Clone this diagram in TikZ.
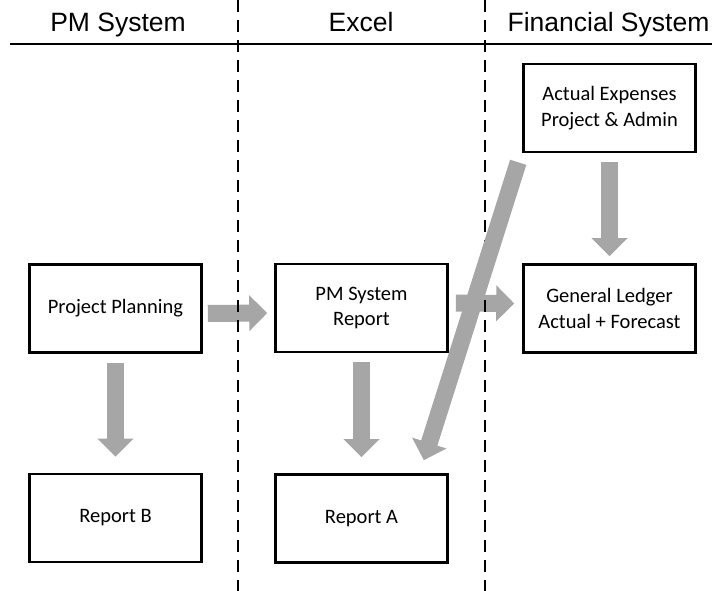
\documentclass[tikz,border=0pt]{standalone}
\usepackage{fontspec}
\setmainfont{Carlito}
\newfontfamily\headfont{Liberation Sans}
\usetikzlibrary{arrows.meta,calc,positioning}

\begin{document}
\begin{tikzpicture}[x=1pt,y=-1pt,
every node/.style={inner sep=0pt},
box/.style={draw,line width=2.6pt,minimum width=172pt,minimum height=88pt,
  align=center,font=\fontsize{20.5}{25.5}\selectfont},
lane/.style={anchor=base,font=\headfont\fontsize{26.5}{30}\selectfont},
fat/.style={draw=gray!70,line width=17pt,-{Triangle[width=35pt,length=18pt]}}]
\useasboundingbox (0,0) rectangle (712,591);

% swimlane headings
\node[lane] (hpm) at (118,32) {PM System};
\node[lane] (hxl) at (361,32) {Excel};
\node[lane] (hfin) at (608.5,32) {Financial System};
\draw[line width=2.2pt] (10,44) -- (712,44);

% boxes
\node[box] (expenses) at (609.5,108) {Actual Expenses\\Project \& Admin};
\node[box] (planning) at (115.5,308.5) {Project Planning};
\node[box] (pmreport) at (361.5,308) {PM System\\Report};
\node[box] (ledger) at (609.5,308.5) {General Ledger\\Actual + Forecast};
\node[box] (reportb) at (115.5,518) {Report B};
\node[box] (reporta) at (361.5,518.5) {Report A};

% flows
\draw[fat,shorten <=5pt,shorten >=7pt] ($(planning.east)+(0,5)$) -- ($(pmreport.west)+(0,5)$);
\draw[fat,shorten <=7pt,shorten >=8pt] ($(pmreport.east)+(0,-5)$) -- ($(ledger.west)+(0,-5)$);
\draw[fat,shorten <=9pt,shorten >=16pt] (planning) -- (reportb);
\draw[fat,shorten <=9pt,shorten >=16pt] (pmreport) -- (reporta);
\draw[fat,shorten <=9pt,shorten >=7pt] (expenses) -- (ledger);

% lane borders
\draw[line width=2.5pt,dash pattern=on 12pt off 8pt] (238,0) -- (238,591);
\draw[line width=2.5pt,dash pattern=on 12pt off 8pt] (485,0) -- (485,591);

\draw[fat] ($(expenses.south west)+(-4,9)$) -- ($(reporta.north east)+(-25,-13)$);
\end{tikzpicture}
\end{document}
